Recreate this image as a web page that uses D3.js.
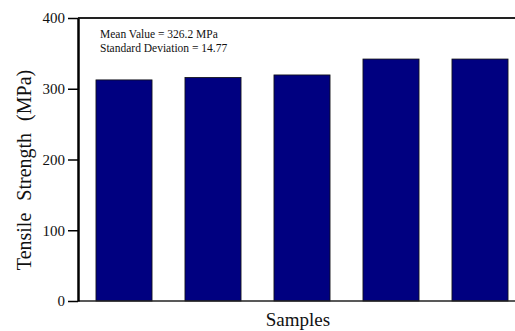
<!DOCTYPE html>
<html><head><meta charset="utf-8">
<script src="https://cdn.jsdelivr.net/npm/d3@7"></script>
<style>body{margin:0;background:#fff}svg{display:block}text{font-family:"Liberation Serif","Times New Roman",serif}</style>
</head><body>
<svg id="c" width="515" height="331"></svg>
<script>
const categories = ["S1","S2","S3","S4","S5"];
const strengths = [312.5, 316, 319.5, 342, 342];
const yTicks = [0, 100, 200, 300, 400];
const notes = ["Mean Value = 326.2 MPa", "Standard Deviation = 14.77"];

(function(){
const svg = d3.select("#c");
const pLeft = 78, pRight = 515, pTop = 18, pBottom = 301;
const font = '"Liberation Serif", "Times New Roman", serif';

const y = d3.scaleLinear().domain([0, 400]).range([pBottom, pTop]);
const x = d3.scaleBand().domain(categories).range([79.5, 524.5]).paddingInner(0.37).paddingOuter(0.185);

svg.selectAll("rect.bar").data(strengths).enter().append("rect")
  .attr("class", "bar")
  .attr("x", (d, i) => x(categories[i]))
  .attr("width", x.bandwidth())
  .attr("y", d => y(d))
  .attr("height", d => y(0) - y(d))
  .attr("fill", "#000080")
  .attr("stroke", "#111")
  .attr("stroke-width", 0.8);

svg.append("line").attr("x1", pLeft).attr("x2", pRight).attr("y1", pTop).attr("y2", pTop)
  .attr("stroke", "#222").attr("stroke-width", 2);

svg.append("line").attr("x1", pLeft).attr("x2", pRight).attr("y1", pBottom).attr("y2", pBottom)
  .attr("stroke", "#222").attr("stroke-width", 1.6);

const yAxis = d3.axisLeft(y).tickValues(yTicks).tickSize(10).tickPadding(3).tickSizeOuter(0);
const ga = svg.append("g").attr("transform", `translate(${pLeft},0)`).call(yAxis);
ga.attr("font-family", null);
ga.select(".domain").attr("stroke", "#000").attr("stroke-width", 2.5);
ga.selectAll(".tick line").attr("stroke", "#000").attr("stroke-width", 1.5);
ga.selectAll(".tick text").style("font-family", font).style("font-size", "15px").attr("fill", "#111");

svg.selectAll("text.note").data(notes).enter().append("text")
  .attr("class", "note")
  .attr("x", 100).attr("y", (d, i) => 38 + i * 14)
  .style("font-family", font).style("font-size", "11.5px").attr("fill", "#111")
  .text(d => d);

svg.append("text").attr("transform", "translate(31,170) rotate(-90)")
  .attr("text-anchor", "middle").style("font-family", font).style("font-size", "20px")
  .style("word-spacing", "7px").attr("fill", "#111")
  .text("Tensile Strength (MPa)");
svg.append("text").attr("x", 298).attr("y", 326)
  .attr("text-anchor", "middle").style("font-family", font).style("font-size", "19px").attr("fill", "#111")
  .text("Samples");
})();
</script>
</body></html>
